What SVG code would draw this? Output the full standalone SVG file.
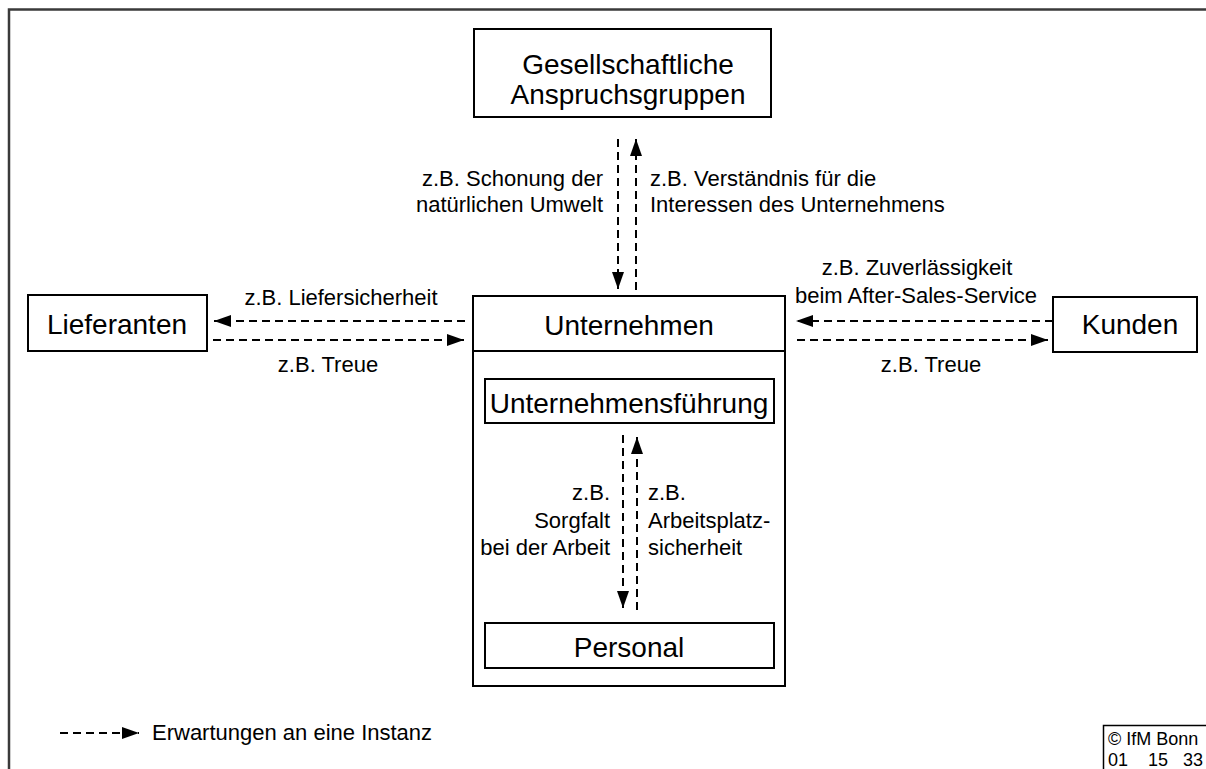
<svg xmlns="http://www.w3.org/2000/svg" width="1206" height="769" viewBox="0 0 1206 769">
  <defs>
    <marker id="head" viewBox="0 0 17 12" refX="17" refY="6" markerWidth="17" markerHeight="12" markerUnits="userSpaceOnUse" orient="auto">
      <path d="M0,0 L17,6 L0,12 Z" fill="#000"/>
    </marker>
    <style>
      .box { fill: #fff; stroke: #000; stroke-width: 2; }
      .frame { fill: none; stroke: #3a3a3a; stroke-width: 2.5; }
      .big { font-family: "Liberation Sans", Arial, sans-serif; font-size: 28px; fill: #000; }
      .lbl { font-family: "Liberation Sans", Arial, sans-serif; font-size: 22px; fill: #000; }
      .small { font-family: "Liberation Sans", Arial, sans-serif; font-size: 18px; fill: #000; }
      .dash { fill: none; stroke: #000; stroke-width: 2; stroke-dasharray: 8 5; marker-end: url(#head); }
      .mid { text-anchor: middle; }
      .end { text-anchor: end; }
    </style>
  </defs>

  <rect width="1206" height="769" fill="#fff"/>
  <!-- outer frame -->
  <path class="frame" d="M9,775 V9.5 H1215"/>

  <!-- nodes -->
  <g id="gesellschaft">
    <rect class="box" x="474" y="29" width="297" height="88"/>
    <text class="big mid" x="628" y="74">Gesellschaftliche</text>
    <text class="big mid" x="628" y="104">Anspruchsgruppen</text>
  </g>

  <g id="lieferanten">
    <rect class="box" x="28" y="295" width="179" height="56"/>
    <text class="big mid" x="117" y="334">Lieferanten</text>
  </g>

  <g id="kunden">
    <rect class="box" x="1053" y="297" width="144" height="55"/>
    <text class="big mid" x="1130" y="334">Kunden</text>
  </g>

  <g id="unternehmen">
    <rect class="box" x="473" y="296" width="312" height="390"/>
    <line x1="473" y1="351" x2="785" y2="351" stroke="#000" stroke-width="2"/>
    <text class="big mid" x="629" y="335">Unternehmen</text>
  </g>

  <g id="fuehrung">
    <rect class="box" x="485" y="379" width="289" height="44"/>
    <text class="big mid" x="629" y="413">Unternehmensführung</text>
  </g>

  <g id="personal">
    <rect class="box" x="485" y="623" width="289" height="45"/>
    <text class="big mid" x="629" y="657">Personal</text>
  </g>

  <!-- connectors -->
  <g id="connectors">
    <path class="dash" d="M618,139 V289"/>
    <path class="dash" d="M636,290 V139"/>
    <path class="dash" d="M465,321 H214"/>
    <path class="dash" d="M213,340 H464"/>
    <path class="dash" d="M1053,321 H796"/>
    <path class="dash" d="M797,340 H1048"/>
    <path class="dash" d="M623,435 V608"/>
    <path class="dash" d="M637,610 V437"/>
  </g>

  <!-- connector labels -->
  <g id="labels">
    <text class="lbl end" x="603" y="186">z.B. Schonung der</text>
    <text class="lbl end" x="603" y="212">natürlichen Umwelt</text>
    <text class="lbl" x="650" y="186">z.B. Verständnis für die</text>
    <text class="lbl" x="650" y="212">Interessen des Unternehmens</text>
    <text class="lbl mid" x="341" y="305">z.B. Liefersicherheit</text>
    <text class="lbl mid" x="328" y="372">z.B. Treue</text>
    <text class="lbl mid" x="917" y="275">z.B. Zuverlässigkeit</text>
    <text class="lbl mid" x="916" y="303">beim After-Sales-Service</text>
    <text class="lbl mid" x="931" y="372">z.B. Treue</text>
    <text class="lbl end" x="610" y="500">z.B.</text>
    <text class="lbl end" x="610" y="528">Sorgfalt</text>
    <text class="lbl end" x="610" y="555">bei der Arbeit</text>
    <text class="lbl" x="648" y="500">z.B.</text>
    <text class="lbl" x="648" y="528">Arbeitsplatz-</text>
    <text class="lbl" x="648" y="555">sicherheit</text>
  </g>

  <!-- legend -->
  <g id="legend">
    <path class="dash" d="M60,733 H139"/>
    <text class="lbl" x="152" y="740">Erwartungen an eine Instanz</text>
  </g>

  <!-- copyright stamp -->
  <g id="stamp">
    <path d="M1103.5,775 V725.5 H1210" fill="none" stroke="#000" stroke-width="1.5"/>
    <text class="small" x="1108" y="745">© IfM Bonn</text>
    <text class="small" x="1108" y="766">01</text>
    <text class="small" x="1148" y="766">15</text>
    <text class="small" x="1183" y="766">33</text>
  </g>
</svg>
